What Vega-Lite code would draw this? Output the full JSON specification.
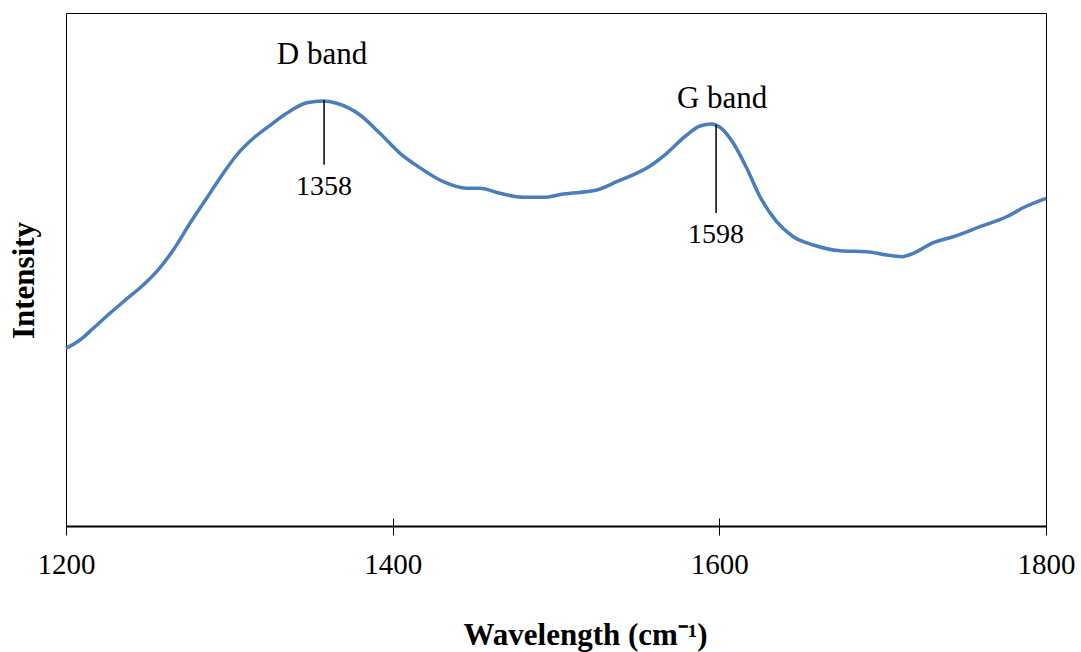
{
  "$schema": "https://vega.github.io/schema/vega-lite/v6.json",
  "autosize": {"type": "none"},
  "width": 980,
  "height": 513,
  "padding": {"left": 66, "top": 13, "right": 35, "bottom": 126},
  "background": "white",
  "config": {
    "view": {"stroke": "black", "strokeWidth": 1},
    "font": "Liberation Serif"
  },
  "datasets": {
    "spectrum": [
      {"w": 1200, "v": 34.64},
      {"w": 1208.6, "v": 36.26},
      {"w": 1216.7, "v": 38.54},
      {"w": 1226.9, "v": 41.46},
      {"w": 1235.1, "v": 43.72},
      {"w": 1247.3, "v": 46.98},
      {"w": 1255.5, "v": 49.57},
      {"w": 1265.7, "v": 53.8},
      {"w": 1275.9, "v": 59.01},
      {"w": 1286.1, "v": 63.88},
      {"w": 1296.3, "v": 68.75},
      {"w": 1304.5, "v": 72.32},
      {"w": 1314.7, "v": 75.58},
      {"w": 1323.9, "v": 77.84},
      {"w": 1335.1, "v": 80.45},
      {"w": 1347.4, "v": 82.51},
      {"w": 1357.5, "v": 82.85},
      {"w": 1365.7, "v": 82.4},
      {"w": 1380.0, "v": 80.12},
      {"w": 1392.2, "v": 76.55},
      {"w": 1404.5, "v": 72.65},
      {"w": 1415.7, "v": 70.04},
      {"w": 1431.0, "v": 67.12},
      {"w": 1445.3, "v": 65.83},
      {"w": 1453.5, "v": 65.83},
      {"w": 1465.7, "v": 64.85},
      {"w": 1480.0, "v": 64.07},
      {"w": 1492.2, "v": 64.07},
      {"w": 1504.5, "v": 64.72},
      {"w": 1524.9, "v": 65.5},
      {"w": 1537.2, "v": 67.12},
      {"w": 1557.6, "v": 70.18},
      {"w": 1567.8, "v": 72.65},
      {"w": 1580.0, "v": 76.22},
      {"w": 1588.2, "v": 77.97},
      {"w": 1595.3, "v": 78.36},
      {"w": 1600.4, "v": 77.72},
      {"w": 1608.6, "v": 74.6},
      {"w": 1616.8, "v": 69.73},
      {"w": 1624.9, "v": 64.19},
      {"w": 1635.1, "v": 59.32},
      {"w": 1645.3, "v": 56.39},
      {"w": 1657.5, "v": 54.78},
      {"w": 1673.9, "v": 53.66},
      {"w": 1690.2, "v": 53.47},
      {"w": 1702.5, "v": 52.83},
      {"w": 1711.7, "v": 52.5},
      {"w": 1718.8, "v": 53.16},
      {"w": 1731.0, "v": 55.22},
      {"w": 1743.2, "v": 56.39},
      {"w": 1759.6, "v": 58.34},
      {"w": 1775.9, "v": 60.29},
      {"w": 1788.2, "v": 62.38},
      {"w": 1800, "v": 63.88}
    ],
    "peaks": [
      {"w": 1358, "top": 83.0, "bottom": 70.4, "num": "1358", "numY": 66.1, "band": "D band", "bandW": 1356.7, "bandY": 91.8},
      {"w": 1598, "top": 78.2, "bottom": 61.0, "num": "1598", "numY": 56.7, "band": "G band", "bandW": 1601.7, "bandY": 83.2}
    ]
  },
  "layer": [
    {
      "data": {"name": "spectrum"},
      "mark": {"type": "line", "color": "#4A7EBB", "strokeWidth": 3.5, "interpolate": "monotone"},
      "encoding": {
        "x": {
          "field": "w", "type": "quantitative",
          "scale": {"domain": [1200, 1800], "nice": false, "zero": false},
          "axis": {
            "orient": "bottom",
            "values": [1200, 1400, 1600, 1800],
            "format": "d",
            "labelFlush": false,
            "labelOverlap": false,
            "grid": false,
            "domainColor": "black", "domainWidth": 2,
            "tickColor": "black", "tickSize": 9, "tickWidth": 1,
            "labelFont": "Liberation Serif", "labelFontSize": 29, "labelColor": "black",
            "labelPadding": 15,
            "title": "Wavelength (cm⁻¹)",
            "titleFont": "Liberation Serif", "titleFontSize": 31, "titleFontWeight": "bold", "titleColor": "black",
            "titlePadding": 41,
            "titleX": 519
          }
        },
        "y": {
          "field": "v", "type": "quantitative",
          "scale": {"domain": [0, 100], "nice": false},
          "axis": {
            "orient": "left",
            "grid": false, "ticks": false, "labels": false, "domain": false,
            "title": "Intensity",
            "titleFont": "Liberation Serif", "titleFontSize": 31, "titleFontWeight": "bold", "titleColor": "black",
            "titlePadding": 26,
            "titleY": 267
          }
        }
      }
    },
    {
      "data": {"name": "peaks"},
      "mark": {"type": "rule", "color": "black", "strokeWidth": 1.5},
      "encoding": {
        "x": {
          "field": "w", "type": "quantitative",
          "axis": {
            "orient": "bottom",
            "values": [1400, 1600],
            "grid": false, "labels": false, "domain": false, "title": null,
            "tickColor": "black", "tickSize": -8, "tickWidth": 1
          }
        },
        "y": {"field": "top", "type": "quantitative", "axis": null},
        "y2": {"field": "bottom"}
      }
    },
    {
      "data": {"name": "peaks"},
      "mark": {"type": "text", "font": "Liberation Serif", "fontSize": 28, "color": "black", "baseline": "middle", "align": "center"},
      "encoding": {
        "x": {"field": "w", "type": "quantitative", "axis": null},
        "y": {"field": "numY", "type": "quantitative", "axis": null},
        "text": {"field": "num"}
      }
    },
    {
      "data": {"name": "peaks"},
      "mark": {"type": "text", "font": "Liberation Serif", "fontSize": 31, "color": "black", "baseline": "middle", "align": "center"},
      "encoding": {
        "x": {"field": "bandW", "type": "quantitative", "axis": null},
        "y": {"field": "bandY", "type": "quantitative", "axis": null},
        "text": {"field": "band"}
      }
    }
  ],
  "resolve": {"axis": {"x": "independent", "y": "independent"}}
}
